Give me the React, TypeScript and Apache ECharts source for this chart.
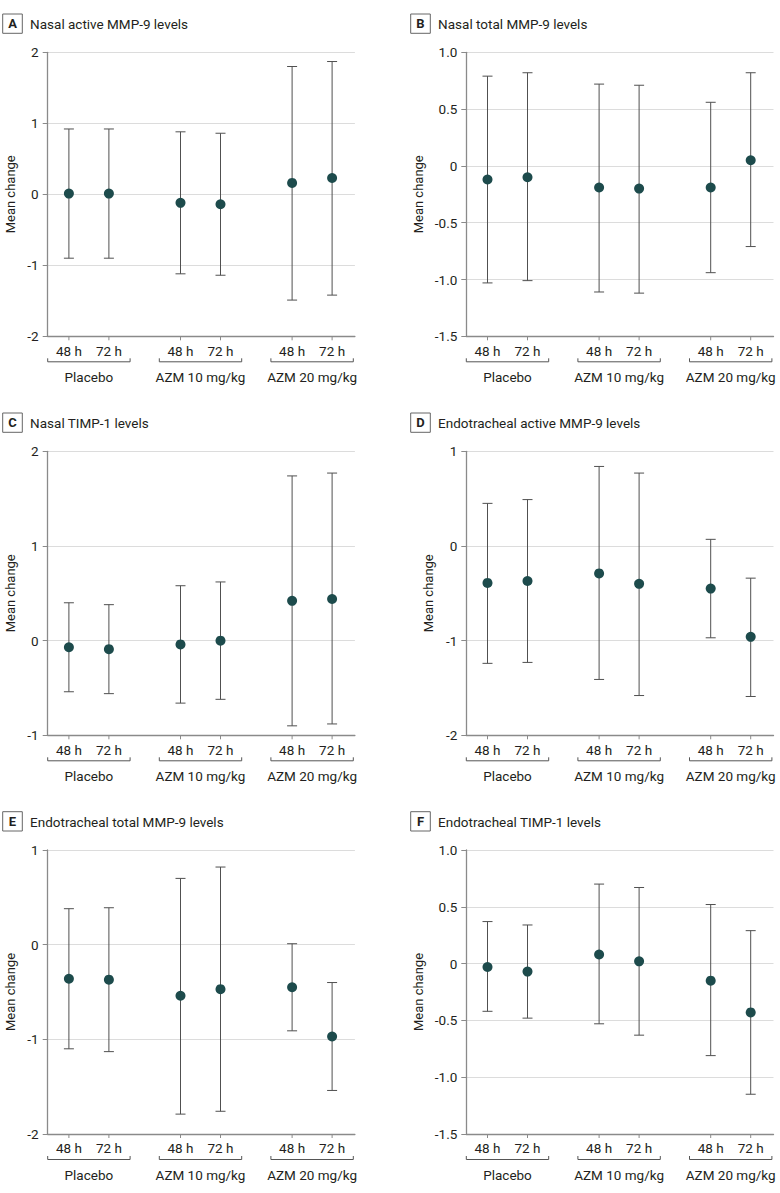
import React, { useEffect, useRef } from "react";
import * as echarts from "echarts";

// ---------- data ----------
const timeLabels = ["48 h", "72 h", "48 h", "72 h", "48 h", "72 h"];
const groupLabels = ["Placebo", "AZM 10 mg/kg", "AZM 20 mg/kg"];
const xPositions = [0, 1, 2.79, 3.79, 5.58, 6.58];
const panelLetters = ["A", "B", "C", "D", "E", "F"];
const panelTitles = [
  "Nasal active MMP-9 levels",
  "Nasal total MMP-9 levels",
  "Nasal TIMP-1 levels",
  "Endotracheal active MMP-9 levels",
  "Endotracheal total MMP-9 levels",
  "Endotracheal TIMP-1 levels",
];
const yAxisName = "Mean change";

// Panel A: Nasal active MMP-9
const meanA = [0.01, 0.01, -0.12, -0.14, 0.16, 0.23];
const lowA = [-0.9, -0.9, -1.12, -1.14, -1.49, -1.42];
const highA = [0.92, 0.92, 0.88, 0.86, 1.8, 1.87];
// Panel B: Nasal total MMP-9
const meanB = [-0.12, -0.1, -0.19, -0.2, -0.19, 0.05];
const lowB = [-1.03, -1.01, -1.11, -1.12, -0.94, -0.71];
const highB = [0.79, 0.82, 0.72, 0.71, 0.56, 0.82];
// Panel C: Nasal TIMP-1
const meanC = [-0.07, -0.09, -0.04, 0.0, 0.42, 0.44];
const lowC = [-0.54, -0.56, -0.66, -0.62, -0.9, -0.88];
const highC = [0.4, 0.38, 0.58, 0.62, 1.74, 1.77];
// Panel D: Endotracheal active MMP-9
const meanD = [-0.39, -0.37, -0.29, -0.4, -0.45, -0.96];
const lowD = [-1.24, -1.23, -1.41, -1.58, -0.97, -1.59];
const highD = [0.45, 0.49, 0.84, 0.77, 0.07, -0.34];
// Panel E: Endotracheal total MMP-9
const meanE = [-0.36, -0.37, -0.54, -0.47, -0.45, -0.97];
const lowE = [-1.1, -1.13, -1.79, -1.76, -0.91, -1.54];
const highE = [0.38, 0.39, 0.7, 0.82, 0.01, -0.4];
// Panel F: Endotracheal TIMP-1
const meanF = [-0.03, -0.07, 0.08, 0.02, -0.15, -0.43];
const lowF = [-0.42, -0.48, -0.53, -0.63, -0.81, -1.15];
const highF = [0.37, 0.34, 0.7, 0.67, 0.52, 0.29];

// y-axis ranges: [min, max, interval]
const yRangeA = [-2, 2, 1];
const yRangeB = [-1.5, 1, 0.5];
const yRangeC = [-1, 2, 1];
const yRangeD = [-2, 1, 1];
const yRangeE = [-2, 1, 1];
const yRangeF = [-1.5, 1, 0.5];

const panelMeans = [meanA, meanB, meanC, meanD, meanE, meanF];
const panelLows = [lowA, lowB, lowC, lowD, lowE, lowF];
const panelHighs = [highA, highB, highC, highD, highE, highF];
const panelRanges = [yRangeA, yRangeB, yRangeC, yRangeD, yRangeE, yRangeF];

// ---------- layout ----------
const FONT = "Roboto, 'Noto Sans', sans-serif";
const TEXT = "#231f20";
const DOT = "#1d4b4c";
const BAR = "#505050";
const AXIS = "#8a8a8a";
const GRIDLINE = "#dcdcdc";
const gridLefts = [47.7, 466.3, 47.7, 466.3, 47.7, 466.3];
const gridTops = [52.3, 52.3, 451.3, 451.3, 850, 850];
const GRID_W = 307.2;
const GRID_H = 284;
const X_MIN = -0.53;
const X_MAX = 7.15;

export default function App() {
  const ref = useRef<HTMLDivElement>(null);
  useEffect(() => {
    if (!ref.current) return;
    const chart = echarts.init(ref.current, undefined, { renderer: "svg" });

    const grids: any[] = [];
    const xAxes: any[] = [];
    const yAxes: any[] = [];
    const series: any[] = [];
    const graphics: any[] = [];

    for (let p = 0; p < 6; p++) {
      const [ymin, ymax, yint] = panelRanges[p];
      const wide = yint < 1;
      grids.push({
        left: gridLefts[p],
        top: gridTops[p],
        width: GRID_W,
        height: GRID_H,
        containLabel: false,
      });
      xAxes.push({
        type: "value",
        gridIndex: p,
        min: X_MIN,
        max: X_MAX,
        axisLine: { show: true, onZero: false, lineStyle: { color: AXIS, width: 1.3 } },
        axisTick: { show: false },
        axisLabel: { show: false },
        splitLine: { show: false },
      });
      yAxes.push({
        type: "value",
        gridIndex: p,
        min: ymin,
        max: ymax,
        interval: yint,
        name: yAxisName,
        nameLocation: "middle",
        nameGap: wide ? 41.5 : 31.2,
        nameRotate: 90,
        nameTextStyle: { fontSize: 13, fontFamily: FONT, color: TEXT },
        axisLine: { show: true, onZero: false, lineStyle: { color: AXIS, width: 1.3 } },
        axisTick: { show: true, length: 5, lineStyle: { color: AXIS } },
        axisLabel: {
          fontSize: 13.5,
          fontFamily: FONT,
          color: TEXT,
          margin: 9,
          formatter: (v: number) =>
            Math.abs(v) < 1e-9 ? "0" : wide ? v.toFixed(1) : String(Math.round(v)),
        },
        splitLine: { show: true, lineStyle: { color: GRIDLINE, width: 1 } },
      });

      // error bars
      series.push({
        type: "custom",
        xAxisIndex: p,
        yAxisIndex: p,
        clip: false,
        z: 2,
        encode: { x: 0, y: [1, 2] },
        data: xPositions.map((x, i) => [x, panelLows[p][i], panelHighs[p][i]]),
        renderItem: (params: any, api: any) => {
          const x = api.value(0);
          const lo = api.coord([x, api.value(1)]);
          const hi = api.coord([x, api.value(2)]);
          const hw = 5;
          const st = { stroke: BAR, lineWidth: 1 };
          return {
            type: "group",
            children: [
              { type: "line", shape: { x1: lo[0], y1: lo[1], x2: hi[0], y2: hi[1] }, style: st },
              { type: "line", shape: { x1: lo[0] - hw, y1: lo[1], x2: lo[0] + hw, y2: lo[1] }, style: st },
              { type: "line", shape: { x1: hi[0] - hw, y1: hi[1], x2: hi[0] + hw, y2: hi[1] }, style: st },
            ],
          };
        },
      });

      // means
      series.push({
        type: "scatter",
        xAxisIndex: p,
        yAxisIndex: p,
        z: 3,
        symbol: "circle",
        symbolSize: 10,
        itemStyle: { color: DOT, opacity: 1 },
        data: xPositions.map((x, i) => [x, panelMeans[p][i]]),
      });

      // x tick labels, brackets and group labels
      const groupData = groupLabels.map((_, g) => [
        xPositions[2 * g],
        xPositions[2 * g + 1],
        ymin,
      ]);
      series.push({
        type: "custom",
        xAxisIndex: p,
        yAxisIndex: p,
        clip: false,
        z: 1,
        silent: true,
        encode: { x: [0, 1], y: 2 },
        data: groupData,
        renderItem: (params: any, api: any) => {
          const g = params.dataIndex;
          const a = api.coord([api.value(0), api.value(2)]);
          const b = api.coord([api.value(1), api.value(2)]);
          const base = a[1];
          const center = (a[0] + b[0]) / 2;
          const half = (b[0] - a[0]) * 1.03;
          const ls = { stroke: "#555", lineWidth: 1 };
          const ts = (text: string, x: number, y: number) => ({
            type: "text",
            style: {
              text,
              x,
              y,
              align: "center",
              verticalAlign: "middle",
              textAlign: "center",
              textVerticalAlign: "middle",
              fontSize: 13.5,
              fontFamily: FONT,
              fill: TEXT,
            },
          });
          const by = base + 25.5;
          return {
            type: "group",
            children: [
              { type: "line", shape: { x1: a[0], y1: base, x2: a[0], y2: base + 4 }, style: { stroke: AXIS, lineWidth: 1 } },
              { type: "line", shape: { x1: b[0], y1: base, x2: b[0], y2: base + 4 }, style: { stroke: AXIS, lineWidth: 1 } },
              ts(timeLabels[2 * g], a[0], base + 14.4),
              ts(timeLabels[2 * g + 1], b[0], base + 14.4),
              { type: "line", shape: { x1: center - half, y1: by, x2: center + half, y2: by }, style: ls },
              { type: "line", shape: { x1: center - half, y1: by, x2: center - half, y2: by - 3.5 }, style: ls },
              { type: "line", shape: { x1: center + half, y1: by, x2: center + half, y2: by - 3.5 }, style: ls },
              ts(groupLabels[g], center, base + 41),
            ],
          };
        },
      });

      // title box + title
      const bx = p % 2 === 0 ? 2.7 : 410.7;
      const by = gridTops[p] - 38.3;
      graphics.push({
        type: "rect",
        shape: { x: bx, y: by, width: 19.6, height: 19.3 },
        style: { fill: "#fff", stroke: "#666", lineWidth: 1 },
      });
      graphics.push({
        type: "text",
        x: bx + 9.8,
        y: by + 9.9,
        style: {
          text: panelLetters[p],
          align: "center",
          verticalAlign: "middle",
          fontSize: 13,
          fontWeight: "bold",
          fontFamily: FONT,
          fill: TEXT,
        },
      });
      graphics.push({
        type: "text",
        x: bx + 27.4,
        y: by + 9.9,
        style: {
          text: panelTitles[p],
          align: "left",
          verticalAlign: "middle",
          fontSize: 13.5,
          fontFamily: FONT,
          fill: TEXT,
        },
      });
    }

    chart.setOption({
      animation: false,
      backgroundColor: "#ffffff",
      grid: grids,
      xAxis: xAxes,
      yAxis: yAxes,
      series,
      graphic: graphics,
    });
    return () => chart.dispose();
  }, []);

  return (
    <div
      ref={ref}
      style={{ position: "absolute", left: 0, top: 0, width: 780, height: 1193 }}
    />
  );
}
